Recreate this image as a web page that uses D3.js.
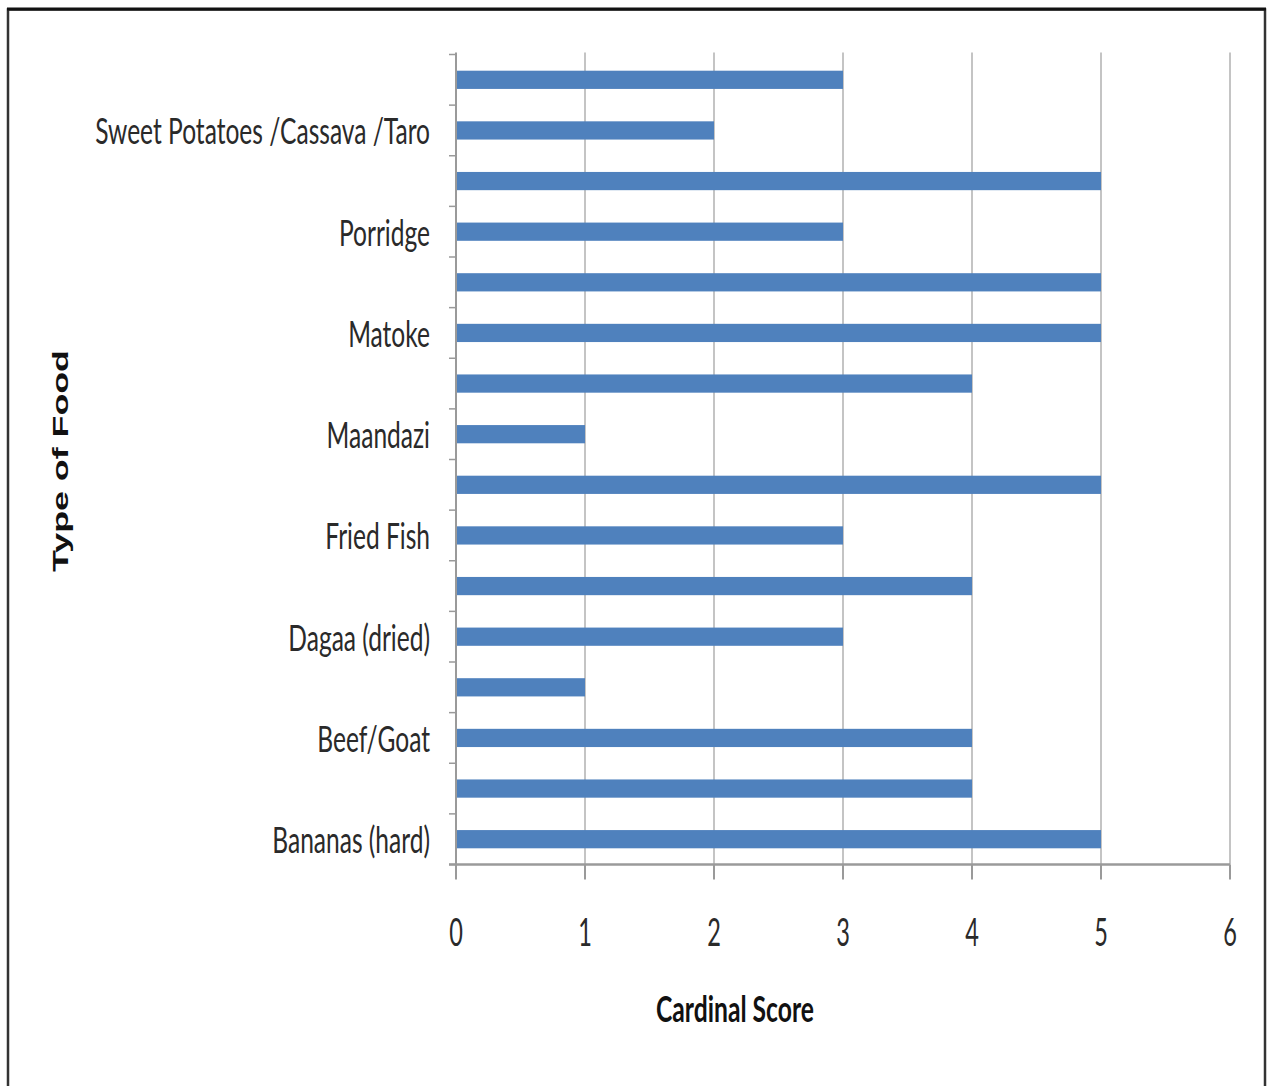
<!DOCTYPE html>
<html>
<head>
<meta charset="utf-8">
<script src="https://cdn.jsdelivr.net/npm/d3@7/dist/d3.min.js"></script>
<style>
  html, body { margin: 0; padding: 0; background: #fff; }
  svg { display: block; }
</style>
</head>
<body>
<svg id="chart" width="1267" height="1086"></svg>
<script>
// Categories listed bottom to top; only every second category carries a visible label.
const categories = [
  "Bananas (hard)", "", "Beef/Goat", "", "Dagaa (dried)", "", "Fried Fish", "",
  "Maandazi", "", "Matoke", "", "Porridge", "", "Sweet Potatoes /Cassava /Taro", ""
];
const scores = [5, 4, 4, 1, 3, 4, 3, 5, 1, 4, 5, 5, 3, 5, 2, 3];
const xTicks = [0, 1, 2, 3, 4, 5, 6];
const xTitle = "Cardinal Score";
const yTitle = "Type of Food";

const svg = d3.select("#chart");
const plot = { left: 456, right: 1230, top: 54.5, bottom: 864.5 };
const labelFont = "Lato, 'Open Sans', sans-serif";

// Outer frame
svg.append("rect")
  .attr("x", 8).attr("y", 9.5)
  .attr("width", 1257).attr("height", 1100)
  .attr("fill", "none").attr("stroke", "#333").attr("stroke-width", 2.5);
svg.append("line")
  .attr("x1", 7).attr("x2", 1266).attr("y1", 9).attr("y2", 9)
  .attr("stroke", "#111").attr("stroke-width", 3);

const x = d3.scaleLinear().domain([0, 6]).range([plot.left, plot.right]);
const idx = d3.range(categories.length);
const y = d3.scaleBand().domain(idx).range([plot.bottom, plot.top]).paddingInner(0.64).paddingOuter(0.32);
const yBounds = d3.scaleLinear().domain([0, categories.length]).range([plot.bottom, plot.top]);

// Vertical gridlines
svg.append("g").selectAll("line").data(xTicks.filter(t => t > 0)).join("line")
  .attr("x1", d => x(d)).attr("x2", d => x(d))
  .attr("y1", plot.top - 2).attr("y2", plot.bottom)
  .attr("stroke", "#c4c4c4").attr("stroke-width", 2);

// Bars
svg.append("g").selectAll("rect").data(idx).join("rect")
  .attr("x", x(0))
  .attr("y", i => y(i))
  .attr("width", i => x(scores[i]) - x(0))
  .attr("height", y.bandwidth())
  .attr("fill", "#4f81bd");

// Y axis line with outward ticks at category boundaries
const axisColor = "#9a9a9a";
svg.append("line")
  .attr("x1", plot.left).attr("x2", plot.left)
  .attr("y1", plot.top - 2).attr("y2", plot.bottom)
  .attr("stroke", axisColor).attr("stroke-width", 2);
svg.append("g").selectAll("line").data(d3.range(categories.length + 1)).join("line")
  .attr("x1", plot.left - 7).attr("x2", plot.left)
  .attr("y1", d => yBounds(d)).attr("y2", d => yBounds(d))
  .attr("stroke", axisColor).attr("stroke-width", 1.5);

// X axis line and ticks
svg.append("line")
  .attr("x1", plot.left - 7).attr("x2", plot.right)
  .attr("y1", plot.bottom).attr("y2", plot.bottom)
  .attr("stroke", axisColor).attr("stroke-width", 2.5);
svg.append("g").selectAll("line").data(xTicks).join("line")
  .attr("x1", d => x(d)).attr("x2", d => x(d))
  .attr("y1", plot.bottom).attr("y2", plot.bottom + 15)
  .attr("stroke", axisColor).attr("stroke-width", 2);

// Text is drawn narrow and tall; squeeze it horizontally about its anchor
function squeeze(sel, sx) {
  sel.each(function () {
    const t = d3.select(this);
    const ax = +t.attr("x"), ay = +t.attr("y");
    t.attr("transform", `translate(${ax},${ay}) scale(${sx},1) translate(${-ax},${-ay})`);
  });
}

// Category labels
const catLabels = svg.append("g").selectAll("text").data(idx.filter(i => categories[i])).join("text")
  .attr("x", 430)
  .attr("y", i => y(i) + y.bandwidth() / 2 + 14)
  .attr("text-anchor", "end")
  .attr("font-family", labelFont)
  .attr("font-size", 36)
  .attr("fill", "#2a2a2a")
  .text(i => categories[i]);
const longest = catLabels.filter(i => i === 14).node().getComputedTextLength();
squeeze(catLabels, 335 / longest);

// X tick labels
const tickLabels = svg.append("g").selectAll("text").data(xTicks).join("text")
  .attr("x", d => x(d))
  .attr("y", 946)
  .attr("text-anchor", "middle")
  .attr("font-family", labelFont)
  .attr("font-size", 38)
  .attr("fill", "#2a2a2a")
  .text(d => d);
squeeze(tickLabels, 0.62);

// X axis title
const xt = svg.append("text")
  .attr("x", 735).attr("y", 1022)
  .attr("text-anchor", "middle")
  .attr("font-family", labelFont)
  .attr("font-weight", "bold")
  .attr("font-size", 36)
  .attr("fill", "#111")
  .text(xTitle);
squeeze(xt, 158 / xt.node().getComputedTextLength());

// Y axis title (rotated, stretched along its length)
const yt = svg.append("text")
  .attr("font-family", "'Liberation Sans', Arial, sans-serif")
  .attr("font-weight", "bold")
  .attr("font-size", 22)
  .attr("text-anchor", "middle")
  .attr("fill", "#111")
  .text(yTitle);
const ytLen = yt.node().getComputedTextLength();
yt.attr("transform", `translate(68,461) rotate(-90) scale(${222 / ytLen},1)`);
</script>
</body>
</html>
